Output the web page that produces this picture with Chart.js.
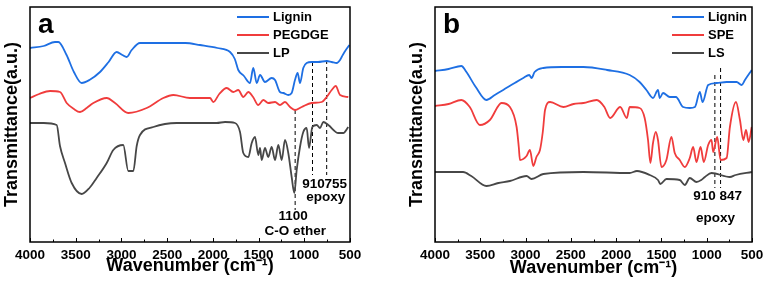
<!DOCTYPE html>
<html>
<head>
<meta charset="utf-8">
<script src="https://cdn.jsdelivr.net/npm/chart.js@4.4.1/dist/chart.umd.min.js"></script>
<style>
  body { margin: 0; background: #fff; width: 769px; height: 286px; overflow: hidden; position: relative; }
  canvas { position: absolute; top: 0; }
</style>
</head>
<body>
<canvas id="chartA" width="384" height="286" style="left:0"></canvas>
<canvas id="chartB" width="364" height="286" style="left:405px"></canvas>
<script>
// x tick labels (wavenumber, cm-1)
const xTicks = [4000, 3500, 3000, 2500, 2000, 1500, 1000, 500];

// panel a : [wavenumber, transmittance a.u.]
const ligninA = [[4000,194],[3850,196],[3727,200],[3690,200],[3600,187],[3520,170],[3435,159],[3350,162],[3234,170],[3140,180],[3052,190],[2990,187],[2942,185],[2888,192],[2797,199],[2505,199],[2300,199],[2141,197],[1950,194],[1812,190],[1760,183],[1722,172],[1660,166],[1594,159],[1558,174],[1520,159],[1484,167],[1430,160],[1357,164],[1320,162],[1266,150],[1230,149],[1175,147],[1138,149],[1102,162],[1073,169],[1047,159],[1011,174],[974,179],[919,180],[850,180],[755,181],[700,180],[645,179],[609,182],[591,185],[560,190],[507,197]];
const pegdgeA = [[4000,144],[3900,148],[3781,151],[3672,150],[3599,139],[3520,133],[3453,130],[3380,134],[3307,139],[3161,144],[3070,139],[2925,129],[2724,134],[2542,144],[2432,147],[2250,144],[2031,144],[1995,140],[1930,148],[1849,154],[1776,150],[1722,152],[1667,145],[1612,150],[1560,145],[1503,137],[1448,142],[1394,139],[1320,140],[1266,137],[1211,140],[1156,135],[1102,132],[1028,135],[919,139],[809,140],[755,145],[700,152],[656,156],[609,147],[519,145]];
const lpA = [[4000,119],[3850,119],[3708,117],[3672,96],[3617,79],[3544,59],[3435,48],[3350,54],[3271,64],[3161,79],[3089,92],[2980,97],[2925,71],[2870,71],[2833,96],[2797,107],[2651,115],[2396,119],[1958,119],[1867,120],[1758,119],[1703,110],[1667,89],[1612,85],[1575,99],[1539,105],[1503,87],[1484,94],[1466,82],[1430,94],[1394,85],[1357,95],[1320,82],[1284,97],[1247,82],[1211,102],[1175,89],[1138,65],[1109,49],[1083,72],[1047,95],[1011,110],[974,114],[948,94],[912,115],[864,117],[828,114],[792,120],[737,117],[628,109],[573,109],[519,115]];
// dashed markers: [wavenumber, top, bottom]
const dashA = [[1100,132,32],[910,180,67],[755,182,67]];

// panel b
const ligninB = [[4000,171],[3850,173],[3709,176],[3653,170],[3550,155],[3432,142],[3340,147],[3247,152],[3120,159],[3025,164],[2960,167],[2934,164],[2900,170],[2804,174],[2600,175],[2361,175],[2100,172],[1851,167],[1741,160],[1666,152],[1593,144],[1538,152],[1519,144],[1482,149],[1408,145],[1340,145],[1261,135],[1187,134],[1130,135],[1076,150],[1046,140],[984,157],[891,159],[780,160],[670,160],[614,157],[578,162],[503,172]];
const speB = [[4000,136],[3850,138],[3709,142],[3616,135],[3505,117],[3394,122],[3265,139],[3173,135],[3099,115],[3075,95],[3062,82],[2989,86],[2952,92],[2915,76],[2880,85],[2841,92],[2810,110],[2785,132],[2730,140],[2582,135],[2470,138],[2361,139],[2214,142],[2130,135],[2066,124],[1955,135],[1882,124],[1851,135],[1741,134],[1685,124],[1648,102],[1622,79],[1593,99],[1563,110],[1538,102],[1500,75],[1445,82],[1390,105],[1353,89],[1298,82],[1242,75],[1187,84],[1150,95],[1113,80],[1068,95],[1032,80],[984,97],[947,102],[929,90],[884,105],[847,82],[780,84],[744,115],[677,140],[633,122],[596,102],[566,112],[537,100],[503,115]];
const lsB = [[4000,70],[3690,70],[3600,66],[3432,56],[3300,59],[3173,61],[2989,66],[2934,63],[2804,68],[2361,70],[1851,69],[1770,71],[1630,67],[1538,62],[1512,58],[1445,63],[1298,62],[1242,57],[1187,64],[1113,60],[1060,62],[1020,65],[947,69],[744,65],[680,67],[503,70]];
const dashB = [[910,167,54],[847,174,54]];

const FONT = '"Liberation Sans", Arial, sans-serif';
const BLUE = '#1e6fe3', RED = '#f03c3c', GREY = '#474747';

function series(label, pts, color) {
  return {
    label, data: pts.map(p => ({ x: p[0], y: p[1] })),
    borderColor: color, borderWidth: 1.8, pointRadius: 0,
    cubicInterpolationMode: 'monotone'
  };
}

function dashes(list) {
  return list.map(d => ({
    label: '', isDash: true,
    data: [{ x: d[0], y: d[1] }, { x: d[0], y: d[2] }],
    borderColor: '#000', borderWidth: 1, borderDash: [4, 3], pointRadius: 0
  }));
}

// frame, inward ticks, legend, panel letter and peak labels
function decor(cfg) {
  return {
    id: 'decor',
    afterDraw(chart) {
      const { ctx, chartArea: a, scales: { x } } = chart;
      ctx.save();
      ctx.strokeStyle = '#000';
      ctx.lineWidth = 1.5;
      ctx.strokeRect(a.left, a.top, a.right - a.left, a.bottom - a.top);
      ctx.lineWidth = 1;
      for (let w = 500; w <= 4000; w += 250) {
        const px = Math.round(x.getPixelForValue(w)) + 0.5;
        const len = w % 500 === 0 ? 4 : 2.5;
        ctx.beginPath();
        ctx.moveTo(px, a.bottom);
        ctx.lineTo(px, a.bottom - len);
        ctx.stroke();
      }
      // legend
      ctx.font = 'bold 13px ' + FONT;
      ctx.textBaseline = 'middle';
      ctx.textAlign = 'left';
      let row = 0;
      chart.data.datasets.forEach(ds => {
        if (ds.isDash) return;
        const y = a.top + 10 + row * 18;
        const x0 = a.right - cfg.legendOffset;
        ctx.strokeStyle = ds.borderColor;
        ctx.lineWidth = 2;
        ctx.beginPath();
        ctx.moveTo(x0, y);
        ctx.lineTo(x0 + 32, y);
        ctx.stroke();
        ctx.fillStyle = '#000';
        ctx.fillText(ds.label, x0 + 36, y + 0.5);
        row++;
      });
      // panel letter
      ctx.font = 'bold 28px ' + FONT;
      ctx.textBaseline = 'alphabetic';
      ctx.fillText(cfg.letter, a.left + 8, a.top + 26);
      // peak labels
      ctx.font = 'bold 13.5px ' + FONT;
      ctx.textAlign = 'center';
      ctx.textBaseline = 'middle';
      cfg.notes.forEach(n => {
        ctx.fillText(n[0], x.getPixelForValue(n[1]) + (n[3] || 0), n[2]);
      });
      ctx.restore();
    }
  };
}

function makeChart(id, datasets, rightPad, titleBottom, cfg) {
  return new Chart(document.getElementById(id), {
    type: 'line',
    data: { datasets },
    options: {
      responsive: false,
      animation: false,
      layout: { padding: { top: 7, right: rightPad, left: 0, bottom: 0 } },
      plugins: { legend: { display: false }, tooltip: { enabled: false } },
      scales: {
        x: {
          type: 'linear', reverse: true, min: 500, max: 4000,
          afterBuildTicks: s => { s.ticks = xTicks.map(v => ({ value: v })); },
          afterFit: s => { s.height = 44; s.paddingLeft = 0; s.paddingRight = 0; },
          grid: { display: false, drawTicks: false }, border: { display: false },
          ticks: {
            color: '#000', padding: 5, maxRotation: 0,
            callback: v => String(v),
            font: { family: FONT, size: 13.5, weight: 'bold' }
          },
          title: {
            display: true, text: 'Wavenumber (cm\u207B\u00B9)', color: '#000',
            padding: { top: 0, bottom: titleBottom },
            font: { family: FONT, size: 18, weight: 'bold', lineHeight: 1 }
          }
        },
        y: {
          min: 0, max: 235,
          afterFit: s => { s.width = 30; },
          grid: { display: false, drawTicks: false }, border: { display: false },
          ticks: { display: false },
          title: {
            display: true, text: 'Transmittance(a.u.)', color: '#000',
            padding: { top: 3, bottom: 0 },
            font: { family: FONT, size: 18, weight: 'bold', lineHeight: 1 }
          }
        }
      }
    },
    plugins: [decor(cfg)]
  });
}

makeChart('chartA', [
  series('Lignin', ligninA, BLUE),
  series('PEGDGE', pegdgeA, RED),
  series('LP', lpA, GREY),
  ...dashes(dashA)
], 34, 11, {
  letter: 'a', legendOffset: 113,
  notes: [['910', 910, 184, 1], ['755', 755, 184, 9], ['epoxy', 755, 197, -1], ['1100', 1100, 216, -2], ['C-O ether', 1100, 231, 0]]
});

makeChart('chartB', [
  series('Lignin', ligninB, BLUE),
  series('SPE', speB, RED),
  series('LS', lsB, GREY),
  ...dashes(dashB)
], 17, 9, {
  letter: 'b', legendOffset: 80,
  notes: [['910 847', 880, 196, 0], ['epoxy', 880, 218, -2]]
});
</script>
</body>
</html>
